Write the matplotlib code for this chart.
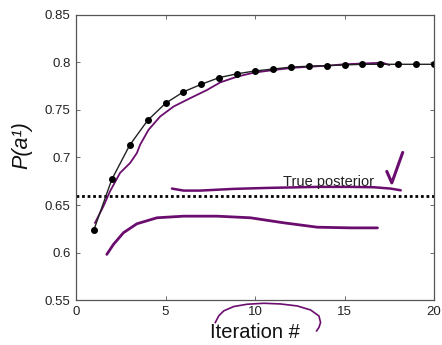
import matplotlib
matplotlib.use("Agg")
import matplotlib.pyplot as plt

plt.rcParams['font.family'] = ['Liberation Sans', 'DejaVu Sans']

iterations = list(range(1, 21))
p_a1 = [0.624, 0.677, 0.713, 0.739, 0.757, 0.769, 0.777, 0.784, 0.788, 0.791,
        0.793, 0.795, 0.796, 0.7966, 0.7973, 0.798, 0.798, 0.798, 0.798, 0.798]
true_posterior = 0.66

# hand-drawn purple annotations (data coordinates)
trace_x = [1.06, 1.53, 1.90, 2.46, 3.02, 3.40, 3.58, 4.05, 4.70, 5.45, 6.38, 7.32,
           8.06, 9.00, 9.93, 11.05, 12.17, 13.10, 14.04, 14.97, 16.28, 17.12, 17.49]
trace_y = [0.6313, 0.6487, 0.6645, 0.6838, 0.6942, 0.7047, 0.7134, 0.7291, 0.7431,
           0.7536, 0.7624, 0.7710, 0.7790, 0.7850, 0.7892, 0.7920, 0.7944, 0.7955,
           0.7965, 0.7980, 0.7990, 0.7997, 0.7973]
low_x = [1.72, 2.09, 2.65, 3.40, 4.52, 6.01, 7.88, 9.74, 11.61, 13.48, 15.34, 16.84]
low_y = [0.5981, 0.6086, 0.6209, 0.6303, 0.6366, 0.6383, 0.6383, 0.6366, 0.6313,
         0.6267, 0.6260, 0.6260]
up_x = [5.36, 6.01, 6.94, 8.81, 10.68, 13.48, 15.34, 16.65, 17.58, 18.14]
up_y = [0.6673, 0.6652, 0.6652, 0.6670, 0.6680, 0.6691, 0.6691, 0.6687, 0.6673, 0.6655]
arrow_x = [17.36, 17.64, 18.25]
arrow_y = [0.6854, 0.6733, 0.7053]
circ_x = [7.78, 7.97, 8.25, 8.81, 9.56, 10.49, 11.42, 12.36, 13.10, 13.57, 13.66, 13.57, 13.44]
circ_y = [0.5265, 0.5334, 0.5387, 0.5433, 0.5457, 0.5467, 0.5460, 0.5439, 0.5397,
          0.5334, 0.5265, 0.5213, 0.5177]

purple = '#6a0d6e'

fig = plt.figure(figsize=(4.42, 3.45), dpi=100)
ax = fig.add_axes([0.172, 0.130, 0.810, 0.827])

ax.axhline(true_posterior, color='black', linestyle=(0, (1, 1)), linewidth=2.0)
ax.text(14.08, 0.6700, 'True posterior', ha='center', va='baseline', fontsize=10.5, color='#222222')

ax.plot(trace_x, trace_y, color=purple, linewidth=1.3)
ax.plot(low_x, low_y, color=purple, linewidth=2.0, solid_capstyle='round', solid_joinstyle='round')
ax.plot(up_x, up_y, color=purple, linewidth=1.8, solid_capstyle='round', solid_joinstyle='round')
ax.plot(arrow_x, arrow_y, color=purple, linewidth=2.2, solid_capstyle='round')
ax.plot(circ_x, circ_y, color=purple, linewidth=1.2, clip_on=False, solid_joinstyle='round')

ax.plot(iterations, p_a1, color='#222222', linewidth=1.0, marker='o', markersize=4,
        markerfacecolor='black', markeredgecolor='black')

ax.set_xlim(0, 20)
ax.set_ylim(0.55, 0.85)
ax.set_xticks([0, 5, 10, 15, 20])
ax.set_xticklabels(['0', '5', '10', '15', '20'])
ax.set_yticks([0.55, 0.6, 0.65, 0.7, 0.75, 0.8, 0.85])
ax.set_yticklabels(['0.55', '0.6', '0.65', '0.7', '0.75', '0.8', '0.85'])
ax.tick_params(direction='in', top=True, right=True, length=3, width=0.6,
               labelsize=9.5, colors='#555555', labelcolor='#222222', pad=4)
for s in ax.spines.values():
    s.set_color('#555555')
    s.set_linewidth(0.9)

ax.set_xlabel('Iteration #', fontsize=14.5, labelpad=4, color='#111111')
ax.set_ylabel('P(a¹)', fontsize=15.5, style='italic', color='#111111')
ax.yaxis.set_label_coords(-0.122, 0.543)

fig.savefig('out.png', dpi=100)
